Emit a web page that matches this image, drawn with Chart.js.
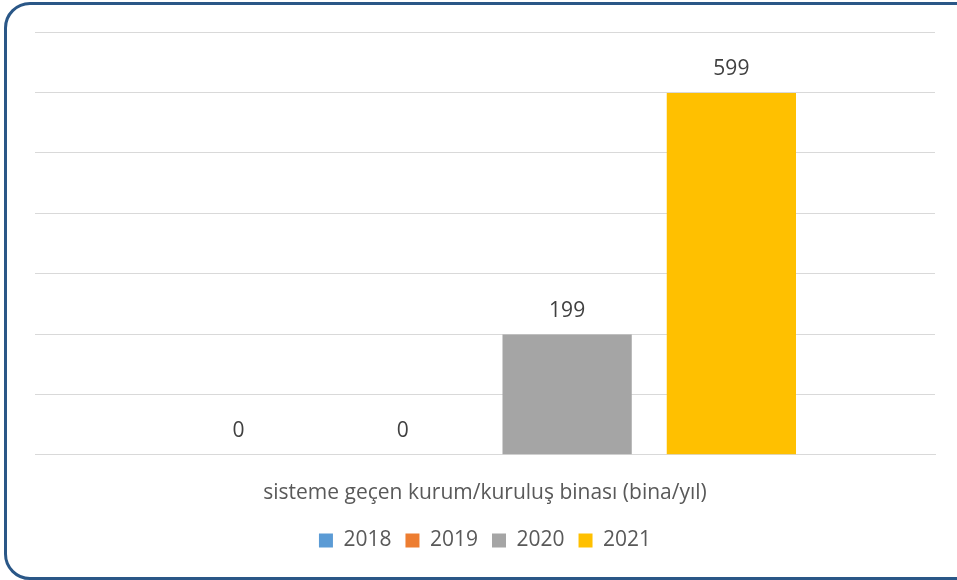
<!DOCTYPE html>
<html>
<head>
<meta charset="utf-8">
<script src="https://cdn.jsdelivr.net/npm/chart.js@4"></script>
<style>
  body { margin: 0; background: #fff; }
  #wrap { position: relative; width: 957px; height: 580px; overflow: hidden; }
  #frame { position: absolute; left: 4px; top: 2px; width: 980px; height: 572px;
           border: 3px solid #2a5787; border-radius: 26px; box-sizing: content-box; pointer-events: none; }
  canvas { position: absolute; left: 0; top: 0; }
</style>
</head>
<body>
<div id="wrap">
  <canvas id="myChart" width="957" height="580"></canvas>
  <div id="frame"></div>
</div>
<script>
  const ctx = document.getElementById('myChart')

  const categories = ['sisteme geçen kurum/kuruluş binası (bina/yıl)']
  const years = ['2018', '2019', '2020', '2021']
  const values = [[0], [0], [199], [599]]
  const colors = ['#5b9bd5', '#ed7d31', '#a5a5a5', '#ffc000']

  const FONT = '"Open Sans", sans-serif'

  // value labels above each bar
  const barLabels = {
    id: 'barLabels',
    afterDatasetsDraw(chart) {
      const c = chart.ctx
      c.save()
      c.font = '21px ' + FONT
      c.fillStyle = '#404040'
      c.textAlign = 'center'
      c.textBaseline = 'middle'
      chart.data.datasets.forEach((ds, i) => {
        chart.getDatasetMeta(i).data.forEach((bar, j) => {
          c.fillText(ds.data[j], bar.x, bar.y - 24)
        })
      })
      c.restore()
    }
  }

  new Chart(ctx, {
    type: 'bar',
    data: {
      labels: categories,
      datasets: years.map((y, i) => ({
        label: y,
        data: values[i],
        backgroundColor: colors[i],
        borderWidth: 0,
        categoryPercentage: 0.73,
        barPercentage: 0.787
      }))
    },
    options: {
      responsive: false,
      animation: false,
      layout: { padding: { left: 35, right: 22, top: 32, bottom: 19 } },
      scales: {
        x: {
          grid: { display: false },
          border: { color: '#d9d9d9', width: 1 },
          ticks: { display: false },
          title: {
            display: true,
            text: categories[0],
            font: { family: FONT, size: 21 },
            color: '#595959',
            padding: { top: 18, bottom: 10 }
          }
        },
        y: {
          min: 0,
          max: 700,
          ticks: { display: false, stepSize: 100 },
          grid: { color: '#d9d9d9', lineWidth: 1, drawTicks: false },
          border: { display: false }
        }
      },
      plugins: {
        legend: {
          position: 'bottom',
          labels: {
            boxWidth: 14,
            boxHeight: 14,
            padding: 14,
            color: '#595959',
            font: { family: FONT, size: 21 }
          }
        },
        tooltip: { enabled: false }
      }
    },
    plugins: [barLabels]
  })
</script>
</body>
</html>
